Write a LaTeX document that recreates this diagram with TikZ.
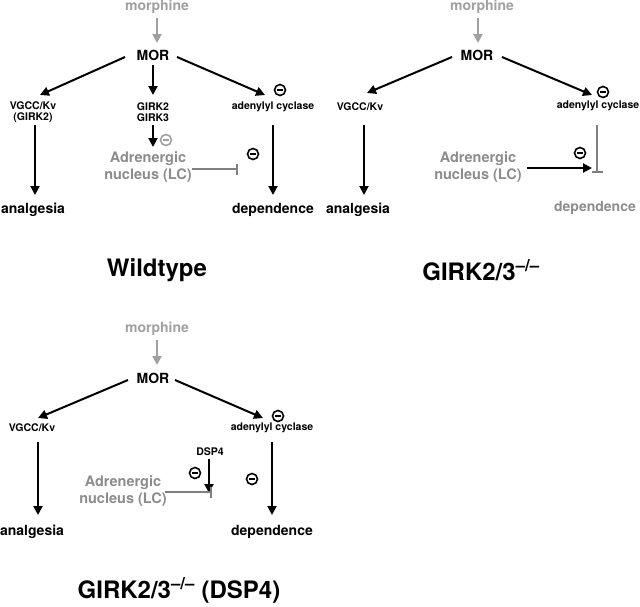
\documentclass[tikz,border=0pt]{standalone}
\usepackage{fontspec}
\setmainfont{TeX Gyre Heros}
\usetikzlibrary{arrows.meta,calc}
\definecolor{mgry}{RGB}{160,160,160}
\definecolor{agry}{RGB}{140,140,140}
\definecolor{lgry}{RGB}{128,128,128}
\begin{document}
\begin{tikzpicture}[x=1pt,y=-1pt,
  lab/.style={font=\bfseries\fontsize{10.5}{11.5}\selectfont,align=center,inner sep=0pt},
  mid/.style={font=\bfseries\fontsize{14}{16}\selectfont,align=center,inner sep=0pt},
  adr/.style={font=\bfseries\fontsize{14.5}{16.5}\selectfont,align=center,inner sep=0pt,text=agry},
  ttl/.style={font=\bfseries\fontsize{24}{28}\selectfont,inner sep=0pt},
  mph/.style={mid,text=mgry},
  arr/.style={line width=2pt,-{Triangle[length=9pt,width=9pt]}},
  garr/.style={line width=2pt,draw=mgry,-{Triangle[length=9pt,width=9pt]},mgry},
  inh/.style={line width=2pt,draw=lgry,-{Bar[width=11pt,line width=2pt]}},
  neg/.style={circle,draw,line width=1.6pt,minimum size=11pt,inner sep=0pt,
    path picture={\draw[line width=1.3pt] ([xshift=-2.6pt]path picture bounding box.center) -- ([xshift=2.6pt]path picture bounding box.center);}}
]
\useasboundingbox (0,0) rectangle (640,606);

% ---------------- Wildtype ----------------
\node[mph] (m1) at (157,7) {morphine};
\node[mid] (mor1) at (153,55) {MOR};
\node[lab] (vg1) at (33,112) {VGCC/Kv\\(GIRK2)};
\node[lab] (gk1) at (153,112) {GIRK2\\GIRK3};
\node[lab] (ac1) at (273,107) {adenylyl cyclase};
\node[mid] (an1) at (33,210) {analgesia};
\node[mid] (de1) at (273,210) {dependence};
\node[adr] (ad1) at (148,167) {Adrenergic\\nucleus (LC)};
\node[ttl] (wt) at (157,270) {Wildtype};
\node[neg,draw=mgry] (n1a) at (166,140) {};
\node[neg] (n1b) at (253,154) {};
\node[neg] (n1c) at (280,90) {};

\draw[garr] ($(m1)+(0,11)$) -- ($(mor1)+(4,-12)$);
\draw[arr] ($(mor1)+(-28,2)$) -- ($(vg1)+(7,-17)$);
\draw[arr] ($(mor1)+(0,10)$) -- ($(gk1)+(0,-17)$);
\draw[arr] ($(mor1)+(24,2)$) -- ($(ac1)+(-8,-12)$);
\draw[arr] ($(vg1)+(2,13)$) -- ($(an1)+(2,-15)$);
\draw[arr] ($(gk1)+(0,13)$) -- ($(ad1)+(5,-20)$);
\draw[arr] ($(ac1)+(0,18)$) -- ($(de1)+(0,-15)$);
\draw[inh] ($(ad1)+(44,2)$) -- ($(ad1)+(90,2)$);

% ---------------- GIRK2/3 -/- ----------------
\node[mph] (m2) at (482,7) {morphine};
\node[mid] (mor2) at (477,55) {MOR};
\node[lab] (vg2) at (360,107) {VGCC/Kv};
\node[lab] (ac2) at (598,106) {adenylyl cyclase};
\node[mid] (an2) at (358,210) {analgesia};
\node[mid,text=agry] (de2) at (595,208) {dependence};
\node[adr] (ad2) at (478,167) {Adrenergic\\nucleus (LC)};
\node[ttl] (ko) at (481,270) {GIRK2/3\textsuperscript{–/–}};
\node[neg] (n2a) at (603,92) {};
\node[neg] (n2b) at (580,153) {};

\draw[garr] ($(m2)+(-4,11)$) -- ($(mor2)+(1,-12)$);
\draw[arr] ($(mor2)+(-25,2)$) -- ($(vg2)+(7,-14)$);
\draw[arr] ($(mor2)+(25,2)$) -- ($(ac2)+(-6,-11)$);
\draw[arr] ($(vg2)+(4,18)$) -- ($(an2)+(6,-15)$);
\draw[inh] ($(ac2)+(-1,19)$) -- ($(ac2)+(-1,67)$);
\draw[arr] ($(ad2)+(49,1)$) -- ($(ad2)+(114,1)$);

% ---------------- GIRK2/3 -/- (DSP4) ----------------
\node[mph] (m3) at (157,329) {morphine};
\node[mid] (mor3) at (153,378) {MOR};
\node[lab] (vg3) at (32,428) {VGCC/Kv};
\node[lab] (ac3) at (272,428) {adenylyl cyclase};
\node[mid] (an3) at (32,532) {analgesia};
\node[mid] (de3) at (272,532) {dependence};
\node[lab] (dsp) at (210,452) {DSP4};
\node[adr] (ad3) at (123,491) {Adrenergic\\nucleus (LC)};
\node[ttl] (dt) at (179,590) {GIRK2/3\textsuperscript{–/–} (DSP4)};
\node[neg] (n3a) at (278,416) {};
\node[neg] (n3b) at (252,479) {};
\node[neg] (n3c) at (195,473) {};

\draw[garr] ($(m3)+(0,11)$) -- ($(mor3)+(4,-13)$);
\draw[arr] ($(mor3)+(-25,2)$) -- ($(vg3)+(6,-10)$);
\draw[arr] ($(mor3)+(22,2)$) -- ($(ac3)+(-9,-10)$);
\draw[arr] ($(vg3)+(6,14)$) -- ($(an3)+(6,-17)$);
\draw[arr] ($(ac3)+(0,14)$) -- ($(de3)+(0,-17)$);
\draw[arr] ($(dsp)+(-1,7)$) -- ($(dsp)+(-1,41)$);
\draw[inh] ($(ad3)+(42,1)$) -- ($(ad3)+(89,1)$);
\end{tikzpicture}
\end{document}
